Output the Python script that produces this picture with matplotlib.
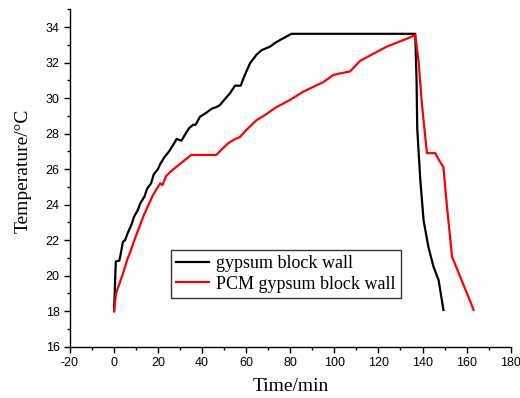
import matplotlib
matplotlib.use('Agg')
import matplotlib.pyplot as plt
from matplotlib.ticker import MultipleLocator

plt.rcParams['axes.unicode_minus'] = False

# gypsum block wall
gyp_t = [0, 0.8, 2.4, 3, 4, 5, 6.2, 8, 9, 10.8, 12, 13.8, 15, 16.8, 18, 19.9,
         21, 23, 25, 27, 28.4, 30.6, 32, 34, 35.9, 37, 39, 41, 44.3, 46.5, 48,
         50, 52.6, 54.9, 57.5, 59, 61.7, 64.7, 67, 70.8, 73, 75.3, 78, 80.5,
         136.7, 137.3, 137.6, 139, 140.5, 142.7, 145, 147.3, 149.5]
gyp_T = [18.0, 20.8, 20.85, 21.2, 21.9, 22.0, 22.4, 22.9, 23.3, 23.7, 24.1,
         24.45, 24.9, 25.2, 25.7, 26.0, 26.3, 26.7, 27.0, 27.4, 27.7, 27.6,
         27.9, 28.3, 28.5, 28.5, 28.95, 29.1, 29.4, 29.5, 29.6, 29.9, 30.27,
         30.7, 30.7, 31.2, 31.96, 32.45, 32.7, 32.9, 33.1, 33.27, 33.45, 33.62,
         33.62, 31.0, 28.3, 25.4, 23.1, 21.6, 20.5, 19.75, 18.07]

# PCM gypsum block wall
pcm_t = [0, 0.9, 2, 4, 6, 7.7, 9.5, 11.5, 13.5, 15.3, 17.5, 19.9, 21, 22,
         23.6, 26, 29, 31, 33, 35, 46.4, 48, 51.7, 55, 57.1, 60, 64.7, 68,
         73.8, 79.9, 85.9, 90.5, 95, 99.5, 103, 107.1, 111.7, 117.7, 123.8,
         129.9, 133, 136.7, 138.2, 139.7, 142, 145.8, 147.5, 149.5, 151.1,
         153.4, 157.1, 160.2, 163.2]
pcm_T = [18.0, 19.0, 19.4, 20.1, 20.9, 21.45, 22.1, 22.75, 23.4, 23.9, 24.5,
         25.0, 25.2, 25.1, 25.6, 25.9, 26.2, 26.4, 26.6, 26.8, 26.8, 27.0,
         27.45, 27.7, 27.8, 28.2, 28.76, 29.0, 29.5, 29.9, 30.36, 30.64, 30.9,
         31.3, 31.4, 31.5, 32.1, 32.5, 32.9, 33.2, 33.35, 33.55, 32.1, 29.7,
         26.9, 26.9, 26.5, 26.1, 23.9, 21.07, 19.94, 19.0, 18.07]

serif = ['Liberation Serif', 'DejaVu Serif']

fig = plt.figure(figsize=(5.2, 3.98), dpi=100)
ax = fig.add_axes([0.1346, 0.1289, 0.8474, 0.8477])

ax.plot(gyp_t, gyp_T, color='black', lw=1.6, label='gypsum block wall')
ax.plot(pcm_t, pcm_T, color='#FF0000', lw=1.6, label='PCM gypsum block wall')

ax.set_xlim(-20, 180)
ax.set_ylim(16, 35)
ax.xaxis.set_major_locator(MultipleLocator(20))
ax.xaxis.set_minor_locator(MultipleLocator(10))
ax.yaxis.set_major_locator(MultipleLocator(2))
ax.yaxis.set_minor_locator(MultipleLocator(1))

for s in ['top', 'right']:
    ax.spines[s].set_visible(False)
for s in ['left', 'bottom']:
    ax.spines[s].set_linewidth(1.0)

ax.tick_params(which='major', direction='out', length=4, width=1,
               labelsize=9, colors='black')
ax.tick_params(which='minor', direction='out', length=2.5, width=1)
for lab in ax.get_xticklabels() + ax.get_yticklabels():
    lab.set_family(['Liberation Sans', 'DejaVu Sans'])

ax.set_xlabel('Time/min', fontsize=14, family=serif)
ax.set_ylabel('Temperature/°C', fontsize=14, family=serif)
ax.xaxis.set_label_coords(0.5, -0.094)
ax.yaxis.set_label_coords(-0.086, 0.52)

leg = ax.legend(loc='lower left', bbox_to_anchor=(0.229, 0.144),
                prop={'family': serif, 'size': 13}, frameon=True,
                fancybox=False, handlelength=1.8, handletextpad=0.4,
                borderpad=0.3, labelspacing=0.2, borderaxespad=0)
leg.get_frame().set_edgecolor('black')
leg.get_frame().set_linewidth(1.0)

fig.savefig('out.png', dpi=100)
